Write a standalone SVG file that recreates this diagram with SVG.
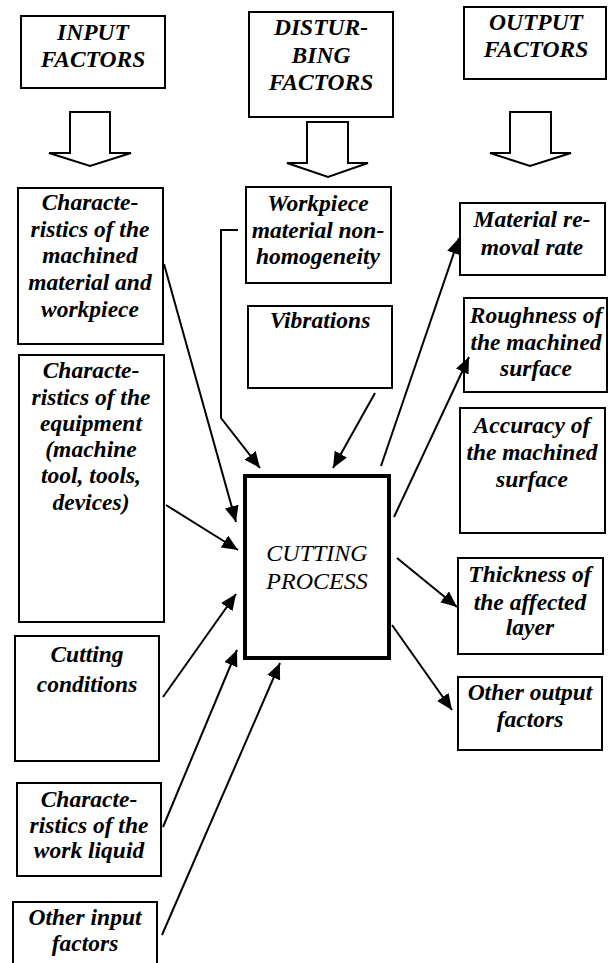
<svg xmlns="http://www.w3.org/2000/svg" width="608" height="963" viewBox="0 0 608 963">
<style>
.box{fill:#fff;stroke:#000;stroke-width:2}
.main{fill:#fff;stroke:#000;stroke-width:4}
text{font-family:'Liberation Serif','DejaVu Serif',serif;text-anchor:middle;fill:#000}
.t{font-size:23.5px;font-weight:bold;font-style:italic}
.tm{font-size:24px;font-weight:normal;font-style:italic}
.hollow{fill:#fff;stroke:#000;stroke-width:2;stroke-linejoin:miter}
.c{fill:none;stroke:#000;stroke-width:2}
</style>
<defs>
<marker id="ah" markerUnits="userSpaceOnUse" markerWidth="17" markerHeight="15" refX="16" refY="7" orient="auto">
<path d="M0,0 L16,7 L0,14 Z" fill="#000"/>
</marker>
</defs>
<rect width="608" height="963" fill="#fff"/>

<g id="input-factors" font-family="Liberation Serif">
<rect class="box" x="21" y="16" width="144" height="72"/>
<text class="t" x="93" y="40">INPUT</text>
<text class="t" x="93" y="67">FACTORS</text>
<path class="hollow" d="M70,112 H110 V153 H131 L90,166 L49,153 H70 Z"/>
</g>

<g id="disturbing-factors">
<rect class="box" x="249" y="12" width="144" height="105"/>
<text class="t" x="321" y="35">DISTUR-</text>
<text class="t" x="321" y="63">BING</text>
<text class="t" x="321" y="90">FACTORS</text>
<path class="hollow" d="M307,122 H348 V163 H368 L328,177 L287,163 H307 Z"/>
</g>

<g id="output-factors">
<rect class="box" x="464" y="7" width="142" height="72"/>
<text class="t" x="536" y="30">OUTPUT</text>
<text class="t" x="536" y="57">FACTORS</text>
<path class="hollow" d="M510,112 H551 V153 H571 L530,166 L490,153 H510 Z"/>
</g>

<g id="machined-material">
<rect class="box" x="18" y="188" width="145" height="156"/>
<text class="t" x="90" y="210">Characte-</text>
<text class="t" x="90" y="237">ristics of the</text>
<text class="t" x="90" y="263">machined</text>
<text class="t" x="90" y="290">material and</text>
<text class="t" x="90" y="317">workpiece</text>
</g>

<g id="equipment">
<rect class="box" x="19" y="355" width="145" height="267"/>
<text class="t" x="91" y="378">Characte-</text>
<text class="t" x="91" y="405">ristics of the</text>
<text class="t" x="91" y="431">equipment</text>
<text class="t" x="91" y="457">(machine</text>
<text class="t" x="91" y="483">tool, tools,</text>
<text class="t" x="91" y="510">devices)</text>
</g>

<g id="cutting-conditions">
<rect class="box" x="15" y="636" width="144" height="125"/>
<text class="t" x="87" y="662">Cutting</text>
<text class="t" x="87" y="692">conditions</text>
</g>

<g id="work-liquid">
<rect class="box" x="17" y="783" width="144" height="93"/>
<text class="t" x="89" y="807">Characte-</text>
<text class="t" x="89" y="833">ristics of the</text>
<text class="t" x="89" y="858">work liquid</text>
</g>

<g id="other-input">
<rect class="box" x="13" y="902" width="144" height="75"/>
<text class="t" x="85" y="925">Other input</text>
<text class="t" x="85" y="951">factors</text>
</g>

<g id="non-homogeneity">
<rect class="box" x="246" y="187" width="145" height="96"/>
<text class="t" x="318" y="211">Workpiece</text>
<text class="t" x="318" y="238">material non-</text>
<text class="t" x="318" y="264">homogeneity</text>
</g>

<g id="vibrations">
<rect class="box" x="248" y="306" width="144" height="82"/>
<text class="t" x="320" y="328">Vibrations</text>
</g>

<g id="cutting-process">
<rect class="main" x="245" y="476" width="144" height="182"/>
<text class="tm" x="317" y="561">CUTTING</text>
<text class="tm" x="317" y="589">PROCESS</text>
</g>

<g id="removal-rate">
<rect class="box" x="460" y="203" width="145" height="72"/>
<text class="t" x="532" y="227">Material re-</text>
<text class="t" x="532" y="255">moval rate</text>
</g>

<g id="roughness">
<rect class="box" x="464" y="298" width="143" height="94"/>
<text class="t" x="536" y="323">Roughness of</text>
<text class="t" x="536" y="350">the machined</text>
<text class="t" x="536" y="376">surface</text>
</g>

<g id="accuracy">
<rect class="box" x="460" y="408" width="145" height="125"/>
<text class="t" x="532" y="433">Accuracy of</text>
<text class="t" x="532" y="460">the machined</text>
<text class="t" x="532" y="487">surface</text>
</g>

<g id="affected-layer">
<rect class="box" x="458" y="558" width="145" height="96"/>
<text class="t" x="530" y="582">Thickness of</text>
<text class="t" x="530" y="610">the affected</text>
<text class="t" x="530" y="635">layer</text>
</g>

<g id="other-output">
<rect class="box" x="458" y="677" width="144" height="73"/>
<text class="t" x="530" y="700">Other output</text>
<text class="t" x="530" y="727">factors</text>
</g>

<g id="connectors">
<line class="c" x1="164" y1="264" x2="236" y2="522" marker-end="url(#ah)"/>
<line class="c" x1="166" y1="505" x2="238" y2="550" marker-end="url(#ah)"/>
<line class="c" x1="163" y1="697" x2="236" y2="594" marker-end="url(#ah)"/>
<line class="c" x1="163" y1="827" x2="237" y2="650" marker-end="url(#ah)"/>
<line class="c" x1="162" y1="935" x2="280" y2="663" marker-end="url(#ah)"/>
<polyline class="c" points="238,230 221,230 221,418 260,468" marker-end="url(#ah)"/>
<line class="c" x1="375" y1="393" x2="333" y2="468" marker-end="url(#ah)"/>
<line class="c" x1="381" y1="466" x2="459" y2="238" marker-end="url(#ah)"/>
<line class="c" x1="394" y1="517" x2="469" y2="357" marker-end="url(#ah)"/>
<line class="c" x1="397" y1="558" x2="457" y2="607" marker-end="url(#ah)"/>
<line class="c" x1="392" y1="625" x2="452" y2="710" marker-end="url(#ah)"/>
</g>
</svg>
